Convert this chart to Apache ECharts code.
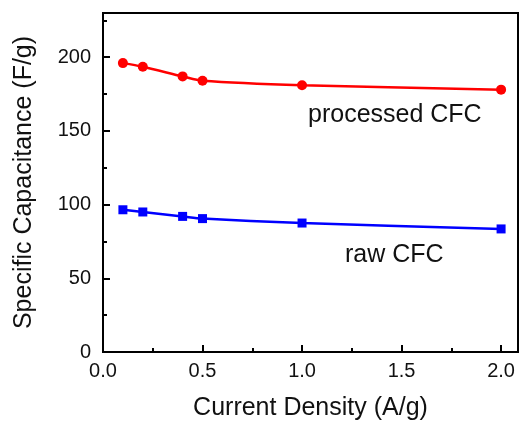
<!DOCTYPE html>
<html>
<head>
<meta charset="utf-8">
<script src="https://cdn.jsdelivr.net/npm/echarts@6/dist/echarts.min.js"></script>
<style>
  html, body { margin: 0; padding: 0; background: #fff; }
  #chart { width: 520px; height: 424px; }
</style>
</head>
<body>
<div id="chart"></div>
<script>
// current density (A/g)
const density = [0.1, 0.2, 0.4, 0.5, 1.0, 2.0];
const processedCFC = [196, 193.5, 187, 184, 181, 178];
const rawCFC = [96.5, 95, 92, 90.5, 87.5, 83.5];
const yTicks = [0, 50, 100, 150, 200];

const myChart = echarts.init(document.getElementById("chart"));
const font = "Liberation Sans, Arial, sans-serif";

const makeSeries = (name, values, color, symbol, size) => ({
  name: name,
  type: "line",
  smooth: 0.3,
  symbol: symbol,
  symbolSize: size,
  lineStyle: { color: color, width: 2.5 },
  itemStyle: { color: color },
  data: density.map((x, i) => [x, values[i]]),
  z: 3,
});

const option = {
  animation: false,
  grid: {
    left: 103, right: 2, top: 13, bottom: 72,
    outerBoundsMode: "none",
    containLabel: false,
    show: true, borderColor: "#000", borderWidth: 2, backgroundColor: "transparent",
  },
  xAxis: {
    type: "value",
    min: 0,
    max: 2.085,
    interval: 0.5,
    name: "Current Density (A/g)",
    nameLocation: "middle",
    nameGap: 44,
    nameTextStyle: { fontSize: 25, color: "#111", fontFamily: font },
    axisLine: { show: true, onZero: false, lineStyle: { color: "#000", width: 2 } },
    axisTick: { show: true, inside: true, length: 7, lineStyle: { color: "#000", width: 2 } },
    minorTick: { show: true, splitNumber: 2, length: 4, lineStyle: { color: "#000", width: 2 } },
    axisLabel: {
      fontSize: 20,
      color: "#111",
      fontFamily: font,
      margin: 9,
      showMaxLabel: false,
      formatter: (v) => v.toFixed(1),
    },
    splitLine: { show: false },
  },
  yAxis: {
    type: "value",
    min: 0,
    max: 230,
    interval: 50,
    name: "Specific Capacitance (F/g)",
    nameLocation: "middle",
    nameGap: 66,
    nameTextStyle: { fontSize: 25, color: "#111", fontFamily: font },
    axisLine: { show: true, onZero: false, lineStyle: { color: "#000", width: 2 } },
    axisTick: { show: true, inside: true, length: 7, lineStyle: { color: "#000", width: 2 } },
    minorTick: { show: true, splitNumber: 2, length: 4, lineStyle: { color: "#000", width: 2 } },
    axisLabel: {
      fontSize: 20,
      color: "#111",
      fontFamily: font,
      margin: 12,
      formatter: (v) => (yTicks.indexOf(v) >= 0 ? String(v) : ""),
    },
    splitLine: { show: false },
  },
  graphic: [
    {
      type: "text",
      left: 308,
      top: 103,
      style: { text: "processed CFC", fontSize: 25, fill: "#111", fontFamily: font },
    },
    {
      type: "text",
      left: 345,
      top: 243,
      style: { text: "raw CFC", fontSize: 25, fill: "#111", fontFamily: font },
    },
  ],
  series: [
    makeSeries("processed CFC", processedCFC, "#ff0000", "circle", 10),
    makeSeries("raw CFC", rawCFC, "#0000ff", "rect", 9),
  ],
};

myChart.setOption(option);
</script>
</body>
</html>
